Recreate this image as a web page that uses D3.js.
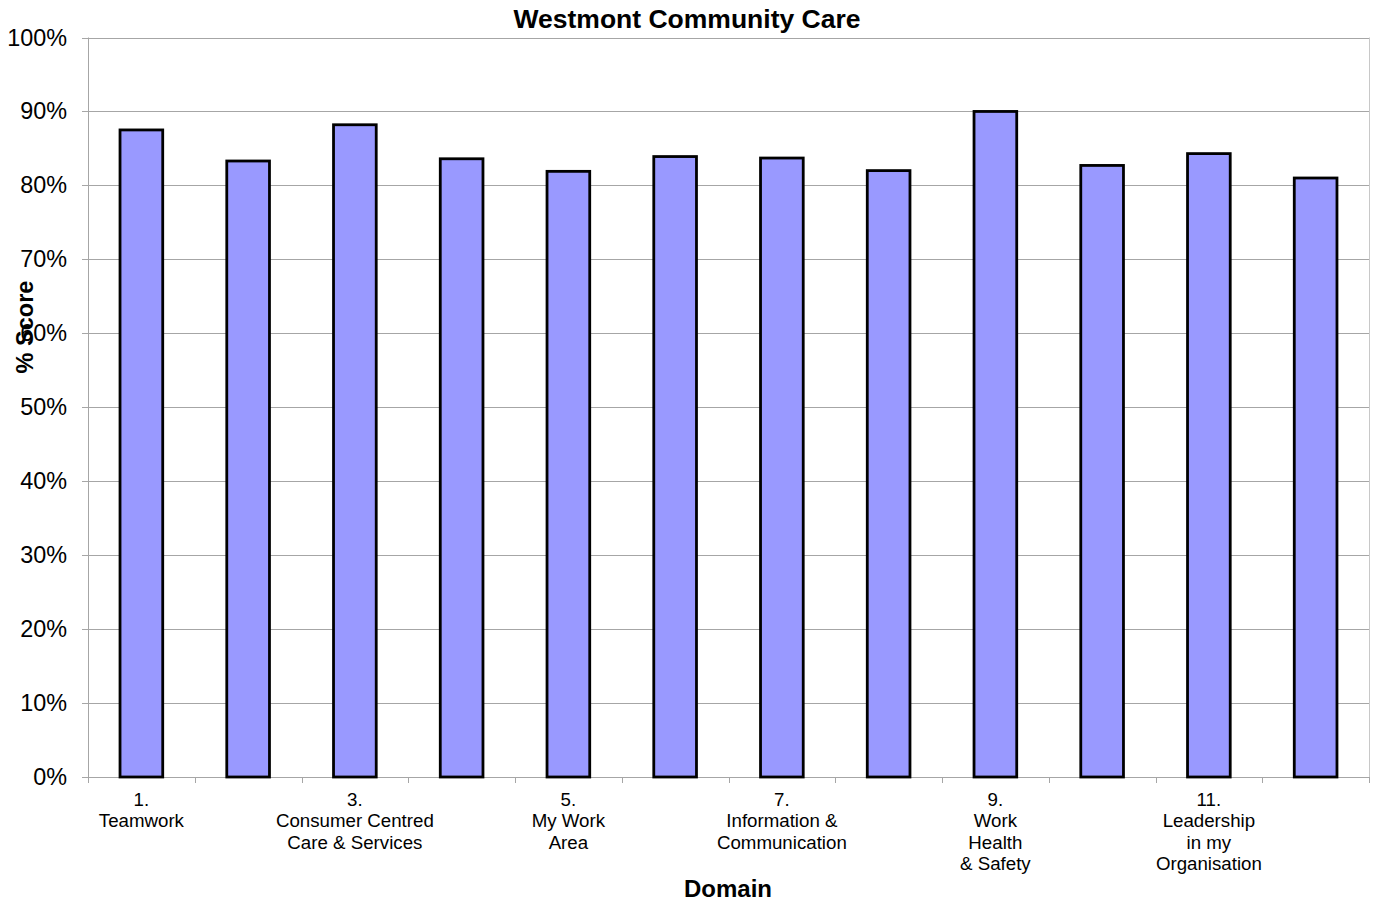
<!DOCTYPE html>
<html>
<head>
<meta charset="utf-8">
<script src="https://cdn.jsdelivr.net/npm/d3@7"></script>
<style>
  body { margin: 0; background: #fff; }
  svg { font-family: "Liberation Sans", Arial, sans-serif; }
</style>
</head>
<body>
<div id="chart"></div>
<script>
// ========== Data ==========
const domains = ["1", "2", "3", "4", "5", "6", "7", "8", "9", "10", "11", "12"];
const domainLabels = [
  ["1.", "Teamwork"],
  [],
  ["3.", "Consumer Centred", "Care & Services"],
  [],
  ["5.", "My Work", "Area"],
  [],
  ["7.", "Information &", "Communication"],
  [],
  ["9.", "Work", "Health", "& Safety"],
  [],
  ["11.", "Leadership", "in my", "Organisation"],
  []
];
const scores = [87.5, 83.3, 88.2, 83.6, 81.9, 83.9, 83.7, 82.0, 90.0, 82.7, 84.3, 81.0];
const yTicks = [0, 10, 20, 30, 40, 50, 60, 70, 80, 90, 100];

// ========== Render ==========
const width = 1373;
const height = 905;
const margin = { top: 37.5, right: 4, bottom: 128, left: 88 };

const svg = d3.select("#chart")
  .append("svg")
  .attr("width", width)
  .attr("height", height);

const x = d3.scaleBand()
  .domain(domains)
  .range([margin.left, width - margin.right])
  .paddingInner(0.6)
  .paddingOuter(0.3);

const xStep = d3.scaleLinear()
  .domain([0, domains.length])
  .range([margin.left, width - margin.right]);

const y = d3.scaleLinear()
  .domain([0, 100])
  .range([height - margin.bottom, margin.top]);

// Gridlines
svg.append("g")
  .selectAll("line")
  .data(yTicks)
  .join("line")
  .attr("x1", margin.left - 6)
  .attr("x2", width - margin.right)
  .attr("y1", (d) => Math.round(y(d)) + 0.5)
  .attr("y2", (d) => Math.round(y(d)) + 0.5)
  .attr("stroke", "#a6a6a6")
  .attr("stroke-width", 1);

// Plot frame (left & right)
svg.append("line")
  .attr("x1", margin.left + 0.5).attr("x2", margin.left + 0.5)
  .attr("y1", y(100)).attr("y2", y(0))
  .attr("stroke", "#a6a6a6");
svg.append("line")
  .attr("x1", width - margin.right + 0.5).attr("x2", width - margin.right + 0.5)
  .attr("y1", y(100)).attr("y2", y(0))
  .attr("stroke", "#c8c8c8");

// X tick marks at category boundaries
svg.append("g")
  .selectAll("line")
  .data(d3.range(domains.length + 1))
  .join("line")
  .attr("x1", (d) => Math.round(xStep(d)) + 0.5)
  .attr("x2", (d) => Math.round(xStep(d)) + 0.5)
  .attr("y1", y(0))
  .attr("y2", y(0) + 6)
  .attr("stroke", "#a6a6a6");

// Y tick labels
svg.append("g")
  .selectAll("text")
  .data(yTicks)
  .join("text")
  .attr("x", 67)
  .attr("y", (d) => y(d) + 8)
  .attr("text-anchor", "end")
  .attr("font-size", 23.4)
  .attr("fill", "#000")
  .text((d) => d + "%");

// Bars
svg.append("g")
  .selectAll("rect")
  .data(scores)
  .join("rect")
  .attr("x", (d, i) => x(domains[i]))
  .attr("y", (d) => y(d))
  .attr("width", x.bandwidth())
  .attr("height", (d) => y(0) - y(d))
  .attr("fill", "#9999ff")
  .attr("stroke", "#000")
  .attr("stroke-width", 2.8);

// X labels
const labelGroup = svg.append("g");
domainLabels.forEach((lines, i) => {
  const t = labelGroup.append("text")
    .attr("text-anchor", "middle")
    .attr("font-size", 18.7)
    .attr("fill", "#000");
  lines.forEach((line, j) => {
    t.append("tspan")
      .attr("x", x(domains[i]) + x.bandwidth() / 2)
      .attr("y", 806 + j * 21.3)
      .text(line);
  });
});

// Title
svg.append("text")
  .attr("x", 687)
  .attr("y", 28)
  .attr("text-anchor", "middle")
  .attr("font-size", 26.5)
  .attr("font-weight", "bold")
  .text("Westmont Community Care");

// Axis titles
svg.append("text")
  .attr("x", 728)
  .attr("y", 897)
  .attr("text-anchor", "middle")
  .attr("font-size", 24)
  .attr("font-weight", "bold")
  .text("Domain");

svg.append("text")
  .attr("transform", "rotate(-90)")
  .attr("x", -327)
  .attr("y", 33)
  .attr("text-anchor", "middle")
  .attr("font-size", 23.5)
  .attr("font-weight", "bold")
  .text("% Score");
</script>
</body>
</html>
